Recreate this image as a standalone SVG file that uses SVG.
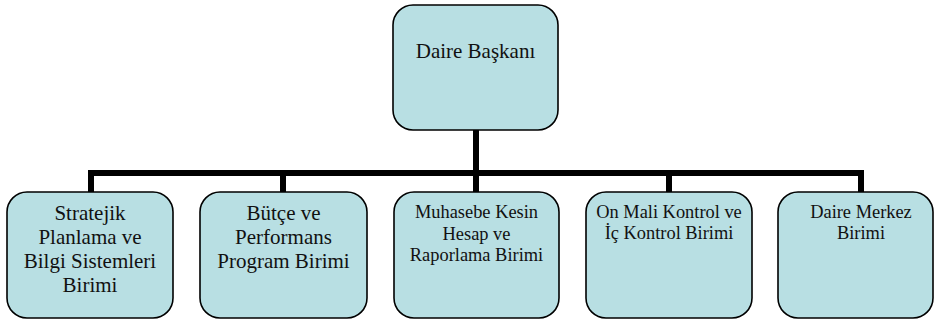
<svg xmlns="http://www.w3.org/2000/svg" width="935" height="323" viewBox="0 0 935 323">
<style>
.box{fill:#b8dfe3;stroke:#000;stroke-width:1.6}
.conn{fill:none;stroke:#000;stroke-width:6;stroke-linejoin:miter;stroke-linecap:butt}
.t{font-family:'Liberation Serif','DejaVu Serif',serif;fill:#111;text-anchor:middle}
.big{font-size:21px}
.sm{font-size:18.4px}
</style>
<rect width="935" height="323" fill="#fff"/>
<g id="connectors">
<path class="conn" d="M476,130 V173 M91,193 V173 H861 V193 M283,173 V193 M476,173 V193 M669,173 V193"/>
</g>
<g id="daire-baskani">
<rect class="box" x="393" y="5" width="165" height="125" rx="20"/>
<text class="t big" x="475.5" y="58">Daire Başkanı</text>
</g>
<g id="stratejik">
<rect class="box" x="7" y="192" width="166" height="126" rx="20"/>
<text class="t big" x="90" y="220">Stratejik</text>
<text class="t big" x="90" y="244">Planlama ve</text>
<text class="t big" x="90" y="268">Bilgi Sistemleri</text>
<text class="t big" x="90" y="292">Birimi</text>
</g>
<g id="butce">
<rect class="box" x="200" y="192" width="167" height="126" rx="20"/>
<text class="t big" x="283.5" y="220">Bütçe ve</text>
<text class="t big" x="283.5" y="244">Performans</text>
<text class="t big" x="283.5" y="268">Program Birimi</text>
</g>
<g id="muhasebe">
<rect class="box" x="394" y="192" width="165" height="126" rx="20"/>
<text class="t sm" x="476.5" y="218">Muhasebe Kesin</text>
<text class="t sm" x="476.5" y="239.5">Hesap ve</text>
<text class="t sm" x="476.5" y="261">Raporlama Birimi</text>
</g>
<g id="on-mali">
<rect class="box" x="586" y="192" width="166" height="126" rx="20"/>
<text class="t sm" x="669" y="218">On Mali Kontrol ve</text>
<text class="t sm" x="669" y="239">İç Kontrol Birimi</text>
</g>
<g id="daire-merkez">
<rect class="box" x="778" y="192" width="155" height="126" rx="20"/>
<text class="t sm" x="861" y="218">Daire Merkez</text>
<text class="t sm" x="861" y="239">Birimi</text>
</g>
</svg>
